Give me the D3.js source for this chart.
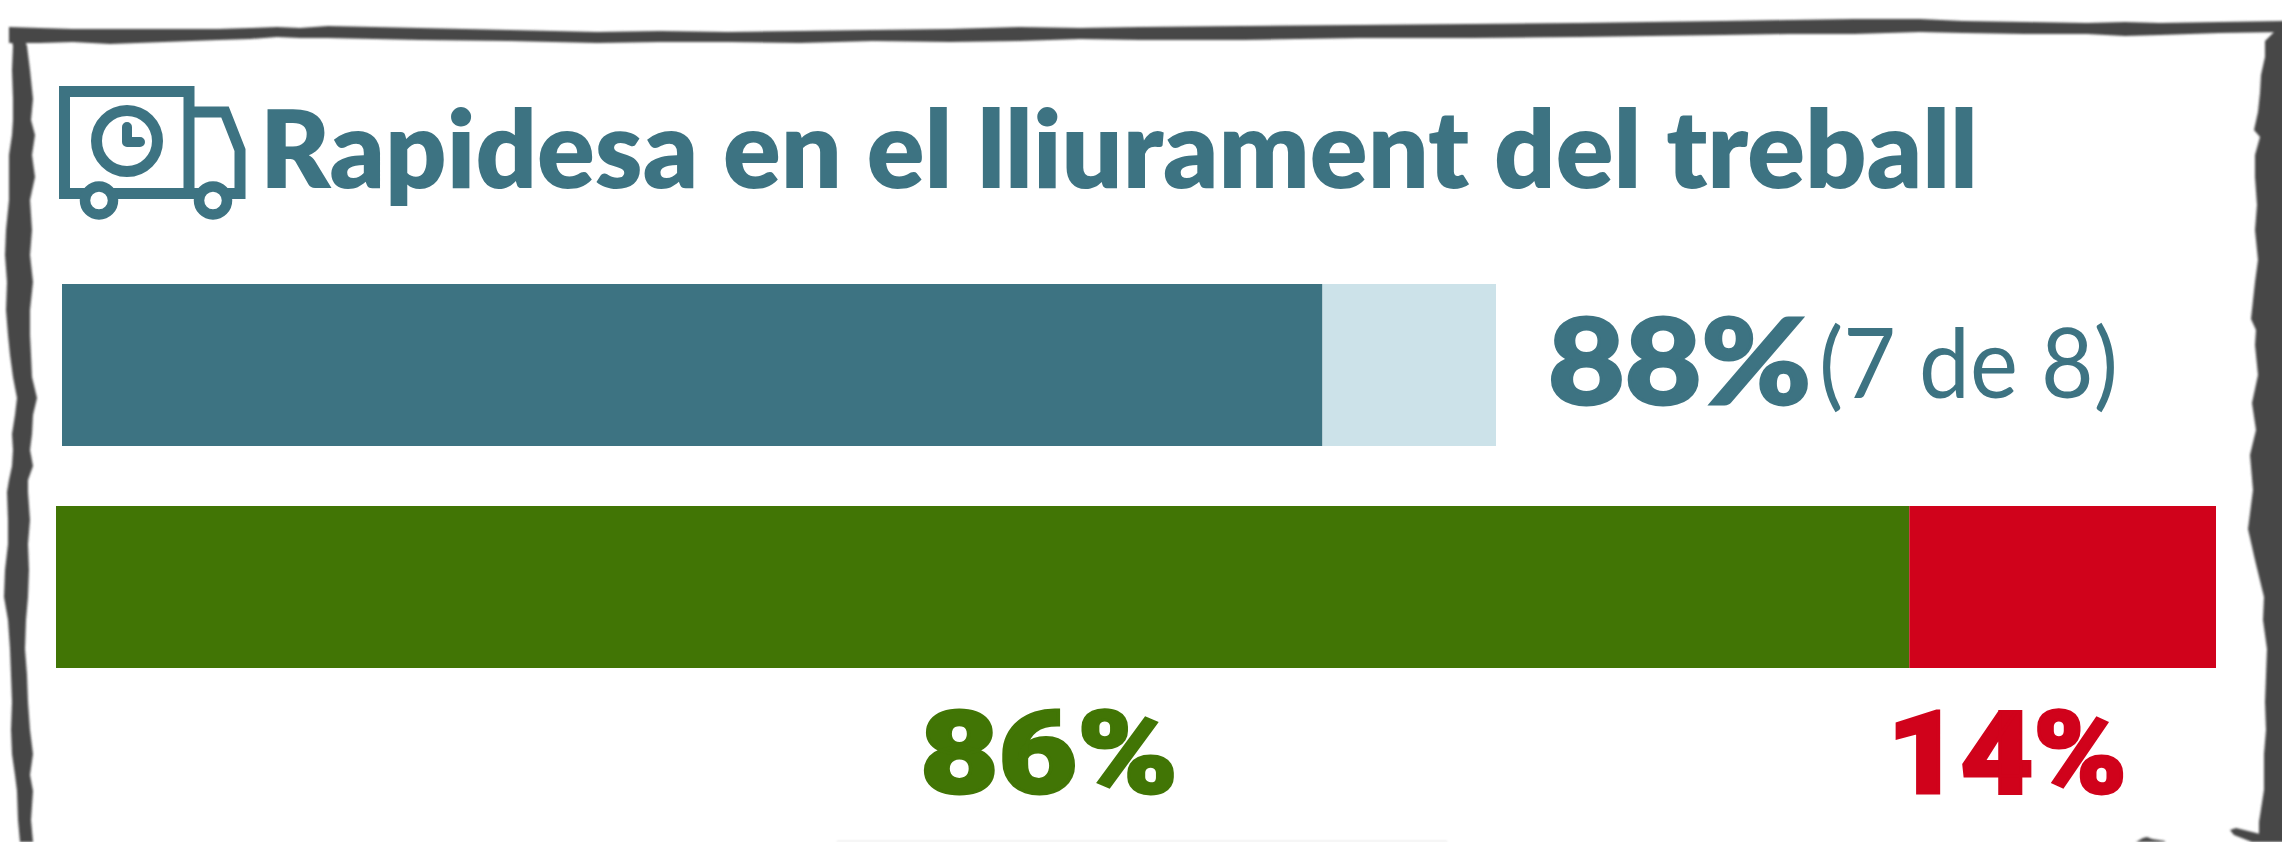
<!DOCTYPE html>
<html>
<head>
<meta charset="utf-8">
<script src="https://cdn.jsdelivr.net/npm/d3@7"></script>
<style>
html, body { margin: 0; padding: 0; background: #fff; overflow: hidden; }
svg { display: block; }
</style>
</head>
<body>
<script>
const width = 2282;
const height = 842;

const titleText = "Rapidesa en el lliurament del treball";

// top bar: done / not done
const deliveredValues = [87.9, 12.1];
const deliveredLabel = "88%";
const deliveredNote = "(7 de 8)";

// bottom bar: in time / late
const ratingValues = [85.8, 14.2];
const ratingLabels = ["86%", "14%"];

const teal = "#3d7382";
const lightTeal = "#cce2e9";
const green = "#417505";
const red = "#d0021b";
const brush = "#464646";

// hand drawn frame: [along, outer, inner]
const frameTop = [[9,27,43],[40,28,43],[73,29,42],[110,29,44],[218,29,40],[250,28,39],[277,27,37],[300,28,38],[328,26,38],[420,28,40],[509,30,41],[597,32,43],[660,31,42],[728,32,42],[800,31,43],[873,30,41],[950,29,42],[1019,27,41],[1080,28,39],[1141,27,40],[1243,26,40],[1359,25,38],[1470,24,38],[1578,23,37],[1650,22,36],[1723,21,35],[1790,20,34],[1854,19,34],[1920,19,32],[1963,21,33],[2025,22,34],[2087,23,34],[2125,22,36],[2160,23,35],[2220,22,33],[2284,21,32]];
const frameLeft = [[28,9,20],[46,13,27],[70,12,30],[99,13,33],[120,13,31],[135,12,35],[155,9,32],[177,9,35],[200,9,30],[230,6,32],[255,5,30],[282,7,33],[310,6,30],[335,8,30],[355,10,31],[377,13,32],[398,17,37],[415,15,33],[434,12,32],[450,13,30],[466,12,33],[480,9,28],[492,7,28],[520,8,30],[544,8,28],[570,5,29],[597,4,28],[620,8,26],[649,10,25],[675,11,27],[702,12,28],[730,11,30],[754,12,33],[775,15,30],[791,17,33],[820,18,31],[842,20,33]];
const frameRight = [[32,2274,2284],[41,2265,2284],[57,2265,2284],[75,2261,2284],[93,2260,2284],[112,2258,2284],[130,2254,2284],[137,2260,2284],[155,2255,2284],[177,2255,2284],[205,2257,2284],[230,2255,2284],[260,2258,2284],[282,2255,2284],[319,2251,2284],[330,2256,2284],[345,2255,2284],[375,2258,2284],[403,2252,2284],[430,2256,2284],[455,2250,2284],[490,2253,2284],[529,2248,2284],[560,2255,2284],[597,2264,2284],[620,2263,2284],[649,2267,2284],[702,2265,2284],[730,2266,2284],[754,2264,2284],[790,2264,2284],[822,2259,2284],[842,2259,2284]];
const frameHook = [[2230,830],[2236,828],[2260,834],[2262,842],[2252,842],[2234,835]];
const frameBump = [[2136,842],[2143,838],[2147,837],[2152,839],[2165,841],[2165,842]];

const svg = d3.select("body").append("svg")
    .attr("width", width)
    .attr("height", height)
    .attr("viewBox", [0, 0, width, height]);

svg.append("rect").attr("width", width).attr("height", height).attr("fill", "#fff");

svg.append("defs").append("filter").attr("id", "soft")
    .append("feGaussianBlur").attr("stdDeviation", 0.8);

// frame
const frame = svg.append("g").attr("fill", brush).attr("filter", "url(#soft)");
const across = d3.area().x(d => d[0]).y0(d => d[1]).y1(d => d[2]);
const down = d3.area().y(d => d[0]).x0(d => d[1]).x1(d => d[2]);
frame.append("path").attr("d", across(frameTop));
frame.append("path").attr("d", down(frameLeft));
frame.append("path").attr("d", down(frameRight));
frame.append("path").attr("d", d3.line()(frameHook) + "Z");
frame.append("path").attr("d", d3.line()(frameBump) + "Z");
// worn bottom line of the frame, barely in the picture
frame.append("rect").attr("x", 837).attr("y", 841).attr("width", 610).attr("height", 1).attr("opacity", 0.15);

// truck icon
const truck = svg.append("g").attr("fill", "none").attr("stroke", teal).attr("stroke-width", 11);
truck.append("path").attr("d", d3.line()([[189, 112], [189, 91.5], [64.5, 91.5], [64.5, 193.5], [240, 193.5], [240, 150], [225, 112], [189, 112], [189, 193.5]]));
truck.selectAll(".wheel").data([99, 213]).enter().append("circle")
    .attr("class", "wheel").attr("cx", d => d).attr("cy", 200.5).attr("r", 14)
    .attr("fill", "#fff").attr("stroke-width", 10.5);
truck.append("circle").attr("cx", 127).attr("cy", 141).attr("r", 30.5);
truck.append("path").attr("d", d3.line()([[127, 127], [127, 142], [140, 142]]))
    .attr("stroke-width", 10).attr("stroke-linecap", "round").attr("stroke-linejoin", "round");

// title
svg.append("text")
    .attr("x", 260).attr("y", 188)
    .attr("font-family", "Lato").attr("font-weight", 800).attr("font-size", 108)
    .attr("textLength", 1718).attr("lengthAdjust", "spacingAndGlyphs")
    .attr("fill", teal)
    .text(titleText);

// top bar
const xTop = d3.scaleLinear().domain([0, 100]).range([62, 1496]);
const stackTop = d3.cumsum(deliveredValues);
svg.append("g").selectAll("rect").data(deliveredValues).enter().append("rect")
    .attr("x", (d, i) => xTop(stackTop[i] - d))
    .attr("width", d => xTop(d) - xTop(0))
    .attr("y", 284).attr("height", 162)
    .attr("fill", (d, i) => [teal, lightTeal][i]);

svg.append("text")
    .attr("x", 1548).attr("y", 404)
    .attr("font-family", "Lato").attr("font-weight", 900).attr("font-size", 118)
    .attr("textLength", 263).attr("lengthAdjust", "spacingAndGlyphs")
    .attr("fill", teal).attr("stroke", teal).attr("stroke-width", 3)
    .text(deliveredLabel);
svg.append("text")
    .attr("x", 1819).attr("y", 398)
    .attr("font-family", "Lato").attr("font-weight", 400).attr("font-size", 96)
    .attr("textLength", 299).attr("lengthAdjust", "spacingAndGlyphs")
    .attr("fill", teal)
    .text(deliveredNote);

// bottom bar
const xBottom = d3.scaleLinear().domain([0, 100]).range([56, 2216]);
const stackBottom = d3.cumsum(ratingValues);
svg.append("g").selectAll("rect").data(ratingValues).enter().append("rect")
    .attr("x", (d, i) => xBottom(stackBottom[i] - d))
    .attr("width", d => xBottom(d) - xBottom(0))
    .attr("y", 506).attr("height", 162)
    .attr("fill", (d, i) => [green, red][i]);

svg.append("g").selectAll("text").data(ratingLabels).enter().append("text")
    .attr("x", (d, i) => [920, 1887][i])
    .attr("y", 793)
    .attr("font-family", "Roboto").attr("font-weight", 900).attr("font-size", 115)
    .attr("textLength", (d, i) => [258, 240][i]).attr("lengthAdjust", "spacingAndGlyphs")
    .attr("fill", (d, i) => [green, red][i])
    .attr("stroke", (d, i) => [green, red][i]).attr("stroke-width", 3)
    .text(d => d);
</script>
</body>
</html>
